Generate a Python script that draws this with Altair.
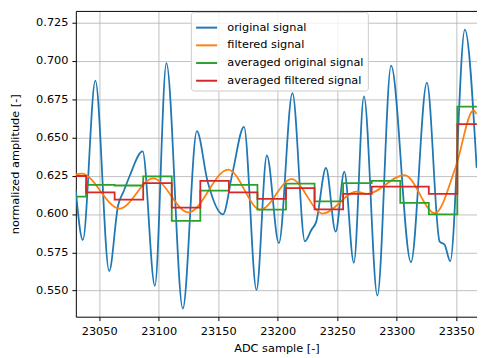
import altair as alt
import pandas as pd

# ---------------- data ----------------
orig_x = [23030.4, 23036.3, 23046.8, 23058.4, 23065.9, 23070.8, 23075.6, 23086.5,
          23096.8, 23106.5, 23120.3, 23132.1, 23141.0, 23154.0, 23162.0, 23171.7,
          23182.2, 23190.9, 23201.0, 23212.4, 23222.9, 23228.3, 23232.3, 23240.6,
          23248.7, 23256.0, 23264.0, 23272.5, 23283.8, 23295.3, 23312.0, 23325.4,
          23336.1, 23340.3, 23345.0, 23357.3, 23367.2]
orig_y = [0.6152, 0.5831, 0.6870, 0.5628, 0.6056, 0.6152, 0.6248, 0.6408,
          0.5532, 0.6985, 0.5383, 0.6541, 0.6216, 0.5998, 0.6267, 0.6569,
          0.5505, 0.6383, 0.5810, 0.6788, 0.5822, 0.5896, 0.5947, 0.6301,
          0.5885, 0.6276, 0.5682, 0.6767, 0.5468, 0.6968, 0.5686, 0.6857,
          0.5821, 0.5799, 0.5692, 0.7203, 0.6301]

filt_x = [23030.4, 23035.2, 23067.1, 23095.4, 23125.1, 23158.4, 23185.5, 23211.7,
          23238.0, 23266.2, 23275.1, 23306.6, 23332.2, 23349.8, 23364.5, 23367.2]
filt_y = [0.6259, 0.6263, 0.6035, 0.6232, 0.6011, 0.6290, 0.6028, 0.6227,
          0.6003, 0.6146, 0.6131, 0.6254, 0.6006, 0.6312, 0.6676, 0.6652]

step_x = [23030.4, 23039, 23063, 23087, 23111, 23135, 23159, 23183, 23207,
          23231, 23255, 23279, 23303, 23327, 23351, 23367.4]
avg_orig = [0.6113, 0.6190, 0.6186, 0.6246, 0.5955, 0.6152, 0.6190, 0.6028,
            0.6199, 0.6083, 0.6201, 0.6216, 0.6073, 0.5998, 0.6701, 0.6701]
avg_filt = [0.6248, 0.6141, 0.6094, 0.6201, 0.6041, 0.6216, 0.6141, 0.6099,
            0.6169, 0.6030, 0.6131, 0.6179, 0.6179, 0.6131, 0.6586, 0.6586]

series = ["original signal", "filtered signal",
          "averaged original signal", "averaged filtered signal"]
colors = ["#1f77b4", "#ff7f0e", "#2ca02c", "#d62728"]

x_ticks = [23050, 23100, 23150, 23200, 23250, 23300, 23350]
y_ticks = [0.550, 0.575, 0.600, 0.625, 0.650, 0.675, 0.700, 0.725]

# ---------------- tables ----------------
df_orig = pd.DataFrame({"x": orig_x, "y": orig_y, "s": series[0]})
df_filt = pd.DataFrame({"x": filt_x, "y": filt_y, "s": series[1]})
df_ao = pd.DataFrame({"x": step_x, "y": avg_orig, "s": series[2]})
df_af = pd.DataFrame({"x": step_x, "y": avg_filt, "s": series[3]})

FONT = "DejaVu Sans"
xscale = alt.Scale(domain=[23030.4, 23367.5], nice=False, zero=False)
yscale = alt.Scale(domain=[0.533, 0.7325], nice=False, zero=False)
cscale = alt.Scale(domain=series, range=colors)

legend = alt.Legend(
    title=None, orient="none", legendX=117, legendY=1,
    symbolType="stroke", symbolSize=460, symbolStrokeWidth=2,
    labelFontSize=11.5, labelFont=FONT, labelColor="black", labelOffset=9,
    rowPadding=-3.5, padding=4, fillColor="rgba(255,255,255,0.8)",
    strokeColor="#cccccc", cornerRadius=3,
)

x_axis = alt.Axis(values=x_ticks, format="d", title="ADC sample [-]",
                  grid=True, tickSize=4, labelPadding=5, titlePadding=6)
y_axis = alt.Axis(values=y_ticks, format=".3f", title="normalized amplitude [-]",
                  grid=True, tickSize=4, labelPadding=4, titlePadding=15)

color_enc = alt.Color("s:N", scale=cscale, legend=legend)
y_enc = alt.Y("y:Q", scale=yscale, axis=y_axis)

blue = alt.Chart(df_orig).mark_line(interpolate="monotone", strokeWidth=1.8, clip=True).encode(
    x=alt.X("x:Q", scale=xscale, axis=x_axis),
    y=y_enc,
    color=color_enc,
)
orange = alt.Chart(df_filt).mark_line(interpolate="monotone", strokeWidth=1.8, clip=True).encode(
    x=alt.X("x:Q", scale=xscale, axis=None),
    y=y_enc,
    color=color_enc,
)
green = alt.Chart(df_ao).mark_line(interpolate="step-after", strokeWidth=1.8, clip=True).encode(
    x=alt.X("x:Q", scale=xscale, axis=None),
    y=y_enc,
    color=color_enc,
)
red = alt.Chart(df_af).mark_line(interpolate="step-after", strokeWidth=1.8, clip=True).encode(
    x=alt.X("x:Q", scale=xscale, axis=None),
    y=y_enc,
    color=color_enc,
)
# top spine
top = alt.Chart(df_orig).mark_line(opacity=0, clip=True).encode(
    x=alt.X("x:Q", scale=xscale,
            axis=alt.Axis(orient="top", labels=False, ticks=False, grid=False,
                          title=None, domainColor="black", domainWidth=1,
                          minExtent=0, maxExtent=0)),
    y=y_enc,
)

chart = alt.layer(blue, orange, green, red, top).resolve_axis(
    x="independent"
).properties(
    width=477, height=349,
    autosize=alt.AutoSizeParams(type="fit", contains="padding"),
    padding={"left": 2, "top": 0, "right": 0, "bottom": 0},
    background="white",
).configure_view(stroke=None).configure_axis(
    labelFont=FONT, titleFont=FONT, labelFontSize=11.5, titleFontSize=11.5,
    labelColor="black", titleColor="black", titleFontWeight="normal",
    domainColor="black", domainWidth=1, tickColor="black",
    gridColor="#b0b0b0", gridWidth=0.8,
)

chart.save("out.html", embed_options={"renderer": "svg", "actions": False})
